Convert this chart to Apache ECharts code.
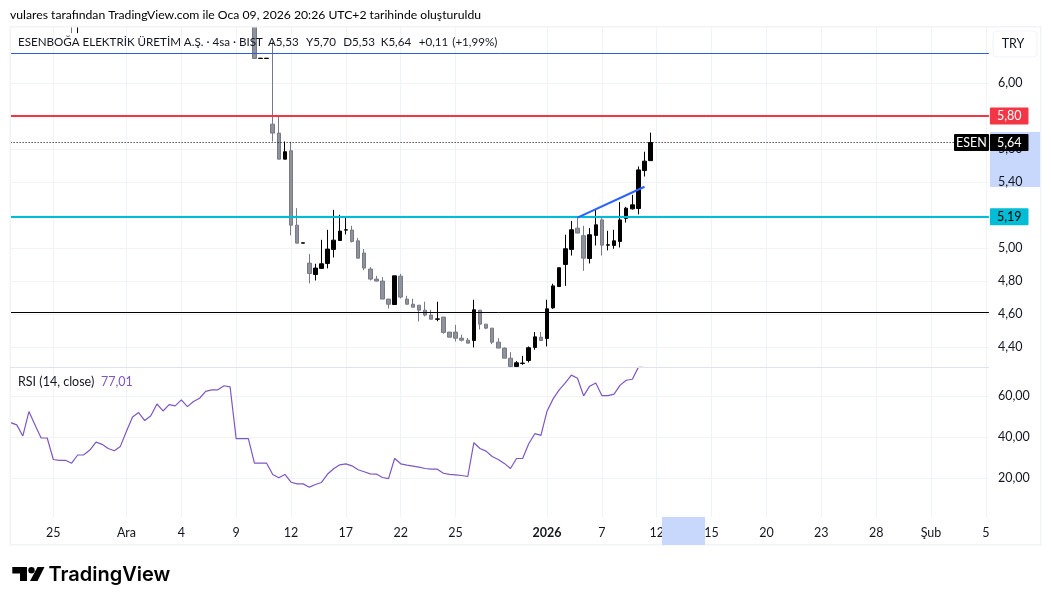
<!DOCTYPE html>
<html>
<head>
<meta charset="utf-8">
<title>ESEN 4sa</title>
<script src="https://cdn.jsdelivr.net/npm/echarts@6/dist/echarts.min.js"></script>
<style>
html, body { margin: 0; padding: 0; background: #fff; }
#container { width: 1051px; height: 605px; }
</style>
</head>
<body>
<div id="container"></div>
<script>
// x ekseni: bar sirasi -> etiket
var barCount = 161;
var tickIndex = [7, 19, 28, 37, 46, 55, 64, 73, 88, 97, 106, 115, 124, 133, 142, 151, 160];
var tickLabels = ['25', 'Ara', '4', '9', '12', '17', '22', '25', '2026', '7', '12', '15', '20', '23', '28', 'Şub', '5'];

// fiyat eksenleri
var priceTicks = [4.4, 4.6, 4.8, 5.0, 5.2, 5.4, 5.6, 5.8, 6.0];
var rsiTicks = [20, 40, 60];

// yatay cizgiler
var redLevel = 5.80;
var cyanLevel = 5.19;
var blackLevel = 4.606;
var blueLevel = 6.182;
var lastPrice = 5.64;

// trend cizgisi (bar, fiyat)
var trendBars = [93, 104];
var trendPrices = [5.185, 5.372];

// pencerenin ustunde kalan iki eski bar
var oldBarIdx = [10, 11];
var oldOpens = [6.55, 6.42];
var oldCloses = [6.42, 6.55];
var oldLows = [6.303, 6.303];
var oldHighs = [6.60, 6.60];

// mumlar 40. bardan itibaren
var candleStart = 40;
var opens = [6.45, 6.149, 6.149, 5.751, 5.697, 5.539, 5.590, 5.139, 5.030, 4.909,
    4.840, 4.877, 4.907, 4.992, 5.046, 5.109, 5.109, 5.044, 4.970, 4.873,
    4.812, 4.800, 4.691, 4.658, 4.830, 4.691, 4.660, 4.654, 4.624, 4.594,
    4.569, 4.582, 4.491, 4.491, 4.454, 4.442, 4.440, 4.624, 4.539, 4.515,
    4.430, 4.394, 4.333, 4.283, 4.301, 4.319, 4.398, 4.460, 4.452, 4.638,
    4.767, 4.901, 4.992, 5.121, 5.075, 4.937, 5.077, 5.171, 5.018, 5.016,
    5.040, 5.180, 5.238, 5.240, 5.470, 5.53];
var closes = [6.149, 6.151, 6.151, 5.697, 5.539, 5.584, 5.139, 5.030, 5.032, 4.846,
    4.879, 4.905, 4.994, 5.048, 5.103, 5.111, 5.040, 4.939, 4.879, 4.812,
    4.800, 4.691, 4.660, 4.832, 4.703, 4.660, 4.642, 4.624, 4.594, 4.569,
    4.571, 4.489, 4.460, 4.454, 4.442, 4.424, 4.626, 4.539, 4.515, 4.430,
    4.394, 4.333, 4.283, 4.305, 4.303, 4.396, 4.462, 4.440, 4.632, 4.771,
    4.881, 4.996, 5.111, 5.091, 4.939, 5.081, 5.141, 5.018, 5.020, 5.044,
    5.171, 5.242, 5.262, 5.474, 5.527, 5.64];
var lows = [6.149, 6.149, 6.149, 5.646, 5.539, 5.539, 5.077, 5.030, 5.030, 4.786,
    4.804, 4.877, 4.877, 4.943, 5.046, 5.083, 5.034, 4.939, 4.866, 4.804,
    4.798, 4.691, 4.634, 4.658, 4.695, 4.658, 4.642, 4.555, 4.586, 4.569,
    4.557, 4.481, 4.460, 4.434, 4.434, 4.424, 4.398, 4.507, 4.509, 4.418,
    4.394, 4.333, 4.273, 4.281, 4.293, 4.307, 4.384, 4.440, 4.404, 4.632,
    4.767, 4.771, 4.955, 5.091, 4.862, 4.907, 5.016, 4.955, 4.986, 4.996,
    5.004, 5.155, 5.234, 5.204, 5.434, 5.53];
var highs = [6.50, 6.151, 6.151, 6.252, 5.802, 5.646, 5.644, 5.242, 5.032, 4.965,
    4.905, 5.050, 5.111, 5.232, 5.202, 5.184, 5.135, 5.062, 4.994, 4.885,
    4.832, 4.824, 4.691, 4.832, 4.844, 4.711, 4.693, 4.654, 4.675, 4.626,
    4.675, 4.582, 4.491, 4.535, 4.475, 4.456, 4.687, 4.624, 4.539, 4.515,
    4.454, 4.398, 4.370, 4.315, 4.347, 4.404, 4.491, 4.491, 4.687, 4.784,
    4.881, 5.081, 5.165, 5.182, 5.135, 5.121, 5.232, 5.182, 5.105, 5.111,
    5.279, 5.250, 5.323, 5.495, 5.584, 5.70];

// RSI (14, close), 0. bardan itibaren
var rsiValues = [47.1, 46.0, 40.6, 52.5, 46.0, 39.6, 39.6, 29.1, 28.7, 28.7,
    27.3, 31.3, 31.4, 33.7, 37.6, 36.5, 34.5, 33.4, 35.5, 42.9,
    49.9, 52.0, 48.1, 50.5, 56.2, 52.8, 55.9, 55.3, 58.2, 54.9,
    57.4, 59.0, 62.4, 63.1, 63.1, 65.1, 64.6, 39.3, 39.3, 39.3,
    27.3, 27.3, 27.3, 21.8, 20.2, 21.8, 18.0, 17.2, 17.2, 15.6,
    16.9, 17.9, 22.0, 24.6, 26.5, 27.0, 26.0, 24.1, 23.1, 22.1,
    22.0, 20.3, 19.8, 29.6, 27.0, 26.4, 25.9, 25.4, 24.7, 24.4,
    24.4, 22.4, 21.8, 21.6, 21.3, 20.8, 37.3, 34.5, 33.2, 30.6,
    29.1, 27.2, 24.7, 29.6, 29.6, 36.8, 41.7, 40.9, 52.7, 58.7,
    63.1, 66.5, 70.3, 68.8, 60.2, 64.9, 66.5, 60.3, 60.3, 61.0,
    65.4, 67.8, 68.3, 74.2, 75.0, 77.01];

var textColor = '#131722';
var gridColor = '#f0f3fa';
var fontName = 'Lato, sans-serif';
var fontSize = 12.5;
var legendSize = 11.6;

var categories = [];
var candleData = [];
for (var i = 0; i < barCount; i++) {
    categories.push('');
    candleData.push('-');
}
for (var t = 0; t < tickIndex.length; t++) {
    categories[tickIndex[t]] = tickLabels[t];
}
for (var k = 0; k < oldBarIdx.length; k++) {
    candleData[oldBarIdx[k]] = [oldOpens[k], oldCloses[k], oldLows[k], oldHighs[k]];
}
for (var c = 0; c < opens.length; c++) {
    candleData[candleStart + c] = [opens[c], closes[c], lows[c], highs[c]];
}

function isTick(index) {
    return tickIndex.indexOf(index) >= 0;
}

function comma(v) {
    return v.toFixed(2).replace('.', ',');
}

function levelLine(value, color, width, type, box) {
    var item = {
        yAxis: value,
        lineStyle: { color: color, width: width, type: type },
        label: { show: false }
    };
    if (box) {
        item.label = {
            show: true,
            position: 'end',
            distance: 1,
            formatter: comma(value),
            color: box,
            fontFamily: fontName,
            fontSize: fontSize,
            backgroundColor: color,
            padding: [2, 7, 2, 7],
            borderRadius: 1
        };
    }
    return item;
}

function legendText(x, y, text, color, size) {
    return {
        type: 'text', x: x, y: y, z: 30, silent: true,
        style: { text: text, fill: color || textColor, font: (size || fontSize) + 'px ' + fontName, textVerticalAlign: 'middle' }
    };
}

function paneRect(x, y, w, h, fill, z) {
    return {
        type: 'rect', z: z, silent: true,
        shape: { x: x, y: y, width: w, height: h },
        style: { fill: fill }
    };
}

var myChart = echarts.init(document.getElementById('container'), null, { renderer: 'canvas' });

var option = {
    animation: false,
    backgroundColor: '#fff',
    grid: [
        { left: 7.6, top: 27, width: 981.3, height: 340.4 },
        { left: 7.6, top: 367.4, width: 981.3, height: 149.6 }
    ],
    xAxis: [0, 1].map(function (g) {
        return {
            type: 'category',
            gridIndex: g,
            data: categories,
            axisLine: { show: false },
            axisTick: { show: false },
            splitLine: {
                show: true,
                alignWithLabel: true,
                interval: function (index) { return isTick(index); },
                lineStyle: { color: gridColor, width: 1 }
            },
            axisLabel: {
                show: g === 1,
                interval: function (index) { return isTick(index); },
                margin: 9,
                color: textColor,
                fontFamily: fontName,
                fontSize: fontSize,
                formatter: function (v) {
                    return v === '2026' ? '{b|2026}' : v;
                },
                rich: { b: { fontWeight: 'bold', fontSize: fontSize, fontFamily: fontName, color: textColor } }
            }
        };
    }),
    yAxis: [
        {
            type: 'value',
            gridIndex: 0,
            position: 'right',
            min: 4.277,
            max: 6.340,
            axisLine: { show: false },
            axisTick: { show: false, customValues: priceTicks },
            splitLine: { show: true, lineStyle: { color: gridColor, width: 1 } },
            axisLabel: {
                customValues: priceTicks,
                margin: 9,
                color: textColor,
                fontFamily: fontName,
                fontSize: fontSize,
                formatter: function (v) { return comma(v); }
            }
        },
        {
            type: 'value',
            gridIndex: 1,
            position: 'right',
            min: 1.03,
            max: 74.07,
            axisLine: { show: false },
            axisTick: { show: false, customValues: rsiTicks },
            splitLine: { show: true, lineStyle: { color: gridColor, width: 1 } },
            axisLabel: {
                customValues: rsiTicks,
                margin: 9,
                color: textColor,
                fontFamily: fontName,
                fontSize: fontSize,
                formatter: function (v) { return comma(v); }
            }
        }
    ],
    series: [
        {
            name: 'ESEN',
            type: 'candlestick',
            xAxisIndex: 0,
            yAxisIndex: 0,
            barWidth: 4,
            clip: true,
            data: candleData,
            itemStyle: {
                color: '#000000',
                color0: '#8f929c',
                borderColor: '#000000',
                borderColor0: '#787b86',
                borderWidth: 1
            },
            markLine: {
                silent: true,
                symbol: 'none',
                animation: false,
                data: [
                    levelLine(blueLevel, '#2f5fd0', 1, 'solid'),
                    levelLine(blackLevel, '#000000', 1, 'solid'),
                    levelLine(lastPrice, '#000000', 1, [1, 2], '#ffffff'),
                    levelLine(redLevel, '#f23645', 2, 'solid', '#ffffff'),
                    levelLine(cyanLevel, '#00bcd4', 2, 'solid', '#000000')
                ]
            }
        },
        {
            name: 'Trend',
            type: 'line',
            xAxisIndex: 0,
            yAxisIndex: 0,
            z: 5,
            symbol: 'none',
            silent: true,
            lineStyle: { color: '#2962ff', width: 2 },
            data: [[trendBars[0], trendPrices[0]], [trendBars[1], trendPrices[1]]]
        },
        {
            name: 'RSI',
            type: 'line',
            xAxisIndex: 1,
            yAxisIndex: 1,
            symbol: 'none',
            silent: true,
            lineStyle: { color: '#7e57c2', width: 1.2 },
            data: rsiValues
        }
    ],
    graphic: [
        // eksen vurgulari
        paneRect(990, 132, 50, 55, '#c8d8fc', -1),
        paneRect(662, 517, 43, 28, '#c8d8fc', 25),
        // pencere disi ve cerceve
        paneRect(0, 0, 1051, 26, '#ffffff', 20),
        paneRect(0, 26, 10, 520, '#ffffff', 20),
        paneRect(10, 26, 1031, 1.5, '#f2f3f5', 21),
        paneRect(10, 544, 1031, 1.5, '#f2f3f5', 21),
        paneRect(9.5, 26, 1.5, 520, '#f2f3f5', 21),
        paneRect(1040, 26, 1.5, 520, '#f2f3f5', 21),
        paneRect(10, 367, 979, 1, '#e0e3eb', 21),
        // TRY dugmesi
        {
            type: 'rect', z: 22, silent: true,
            shape: { x: 993, y: 31, width: 44, height: 26, r: 4 },
            style: { fill: '#ffffff', stroke: '#f0f3fa', lineWidth: 1 }
        },
        {
            type: 'text', x: 1013, y: 44, z: 23, silent: true,
            style: { text: 'TRY', fill: textColor, font: fontSize + 'px ' + fontName, textAlign: 'center', textVerticalAlign: 'middle' }
        },
        // ESEN etiketi
        {
            type: 'rect', z: 40, silent: true,
            shape: { x: 954, y: 134, width: 35, height: 17, r: 1 },
            style: { fill: '#000000' }
        },
        {
            type: 'text', x: 971.5, y: 142.5, z: 41, silent: true,
            style: { text: 'ESEN', fill: '#ffffff', font: fontSize + 'px ' + fontName, textAlign: 'center', textVerticalAlign: 'middle' }
        },
        // ust yazilar
        legendText(10, 15, 'vulares tarafından TradingView.com ile Oca 09, 2026 20:26 UTC+2 tarihinde oluşturuldu', '#000000', 12.2),
        legendText(18, 42, 'ESENBOĞA ELEKTRİK ÜRETİM A.Ş. · 4sa · BIST', textColor, legendSize),
        legendText(268, 42, 'A5,53', textColor, legendSize),
        legendText(306, 42, 'Y5,70', textColor, legendSize),
        legendText(343.3, 42, 'D5,53', textColor, legendSize),
        legendText(380.7, 42, 'K5,64', textColor, legendSize),
        legendText(418.7, 42, '+0,11', textColor, legendSize),
        legendText(452.3, 42, '(+1,99%)', textColor, legendSize),
        legendText(18, 382, 'RSI (14, close)'),
        legendText(101, 382, '77,01', '#7e57c2'),
        // TradingView logosu
        {
            type: 'polygon', z: 30, silent: true,
            shape: { points: [[12.3, 567], [27, 567], [27, 581], [20, 581], [20, 573.5], [12.3, 573.5]] },
            style: { fill: '#000000' }
        },
        {
            type: 'circle', z: 30, silent: true,
            shape: { cx: 31.5, cy: 570.2, r: 3.2 },
            style: { fill: '#000000' }
        },
        {
            type: 'polygon', z: 30, silent: true,
            shape: { points: [[37.5, 567], [44.5, 567], [37.5, 581], [30, 581]] },
            style: { fill: '#000000' }
        },
        {
            type: 'text', x: 48.5, y: 574.5, z: 30, silent: true,
            style: { text: 'TradingView', fill: '#000000', font: '600 20px Inter, sans-serif', textVerticalAlign: 'middle' }
        }
    ]
};

myChart.setOption(option);
</script>
</body>
</html>
